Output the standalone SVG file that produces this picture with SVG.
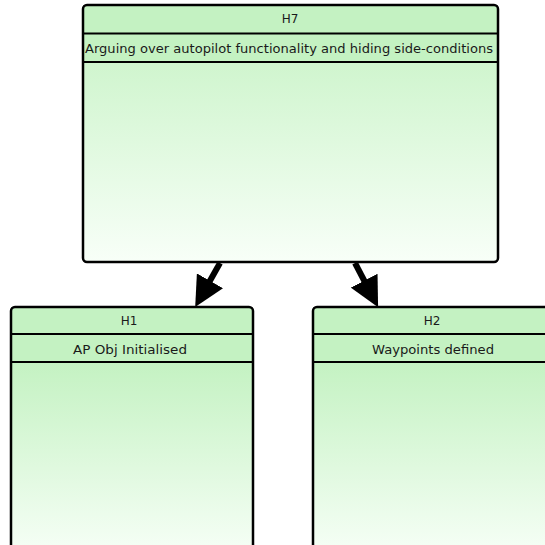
<svg xmlns="http://www.w3.org/2000/svg" width="545" height="545" viewBox="0 0 545 545">
  <style>
    .frame { fill: none; stroke: #000; stroke-width: 2.5; }
    .row { fill: #c4f2c2; }
    .sep { stroke: #000; stroke-width: 2; }
    .label { font-family: "DejaVu Sans", "Liberation Sans", Arial, sans-serif; font-size: 12px; fill: #1a1a1a; text-anchor: middle; }
    .link { stroke: #000; stroke-width: 6; fill: none; marker-end: url(#head); }
  </style>
  <defs>
    <linearGradient id="body" x1="0" y1="0" x2="0" y2="1">
      <stop offset="0" stop-color="#c4f2c2"/>
      <stop offset="1" stop-color="#f8fff8"/>
    </linearGradient>
    <linearGradient id="bodyTall" gradientUnits="userSpaceOnUse" x1="0" y1="362" x2="0" y2="560">
      <stop offset="0" stop-color="#c4f2c2"/>
      <stop offset="1" stop-color="#f8fff8"/>
    </linearGradient>
    <marker id="head" markerWidth="5" markerHeight="5" refX="1" refY="2.5" orient="auto" markerUnits="strokeWidth">
      <path d="M0,0 L5,2.5 L0,5 Z" fill="#000"/>
    </marker>
  </defs>

  <g id="connectors">
    <line class="link" x1="220" y1="263" x2="207" y2="286"/>
    <line class="link" x1="355" y1="263" x2="367" y2="286"/>
  </g>

  <g id="H7">
    <rect x="83" y="5" width="415" height="257" rx="4" fill="url(#body)"/>
    <rect class="row" x="83" y="5" width="415" height="57"/>
    <line class="sep" x1="83" y1="33.5" x2="498" y2="33.5"/>
    <line class="sep" x1="83" y1="62" x2="498" y2="62"/>
    <rect class="frame" x="83" y="5" width="415" height="257" rx="4"/>
    <text class="label" x="290" y="22.5">H7</text>
    <text class="label" x="289" y="53" textLength="408" lengthAdjust="spacingAndGlyphs">Arguing over autopilot functionality and hiding side-conditions</text>
  </g>

  <g id="H1">
    <rect x="11" y="307" width="242" height="260" rx="4" fill="url(#bodyTall)"/>
    <rect class="row" x="11" y="307" width="242" height="55"/>
    <line class="sep" x1="11" y1="334" x2="253" y2="334"/>
    <line class="sep" x1="11" y1="362" x2="253" y2="362"/>
    <rect class="frame" x="11" y="307" width="242" height="260" rx="4"/>
    <text class="label" x="129" y="325">H1</text>
    <text class="label" x="130" y="354" textLength="114" lengthAdjust="spacingAndGlyphs">AP Obj Initialised</text>
  </g>

  <g id="H2">
    <rect x="313" y="307" width="242" height="260" rx="4" fill="url(#bodyTall)"/>
    <rect class="row" x="313" y="307" width="242" height="55"/>
    <line class="sep" x1="313" y1="334" x2="555" y2="334"/>
    <line class="sep" x1="313" y1="362" x2="555" y2="362"/>
    <rect class="frame" x="313" y="307" width="242" height="260" rx="4"/>
    <text class="label" x="432" y="325">H2</text>
    <text class="label" x="433" y="354" textLength="122" lengthAdjust="spacingAndGlyphs">Waypoints defined</text>
  </g>
</svg>
